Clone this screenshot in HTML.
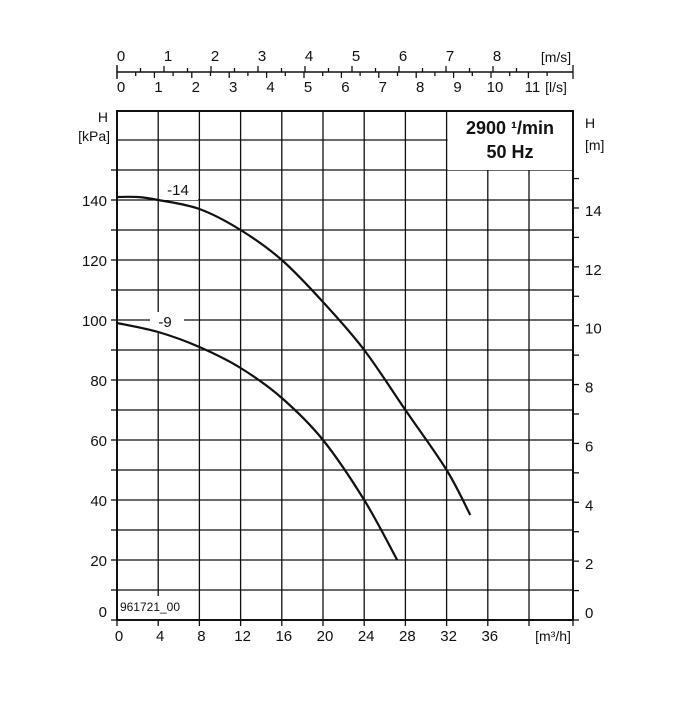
<!DOCTYPE html>
<html><head><meta charset="utf-8"><style>
body{margin:0;background:#fff;font-family:"Liberation Sans",Arial,sans-serif}
svg text{font-family:"Liberation Sans",Arial,sans-serif;fill:#111}
</style></head><body>
<svg id="c" width="700" height="700" viewBox="0 0 700 700" xmlns="http://www.w3.org/2000/svg"></svg>
<script>
const xTicks=[0,4,8,12,16,20,24,28,32,36];
const yTicksKpa=[0,20,40,60,80,100,120,140];
const yTicksM=[0,2,4,6,8,10,12,14];
const lsTicks=[0,1,2,3,4,5,6,7,8,9,10,11];
const msTicks=[0,1,2,3,4,5,6,7,8];
const q14=[0,2,4,8,12,16,20,24,28,32,34.3];
const h14=[141,141,140,137,130,120,106,90,70,50,35];
const q9=[0,4,8,12,16,20,24,27.2];
const h9=[99,96,91,84,74,60,40,20];

const svg=document.getElementById('c');
const NS='http://www.w3.org/2000/svg';
const X0=117,XPU=10.3,Y0=620,YPU=3,LEFT=117,RIGHT=573,TOP=111,BOT=620;
const xs=q=>X0+q*XPU, ys=h=>Y0-h*YPU, ym=m=>Y0-m*9.81*YPU;
function el(t,a,p){const e=document.createElementNS(NS,t);for(const k in a)e.setAttribute(k,a[k]);(p||svg).appendChild(e);return e;}
function line(x1,y1,x2,y2,w,p){return el('line',{x1,y1,x2,y2,stroke:'#111','stroke-width':w||1.3},p);}
function txt(x,y,s,size,anchor,p,weight){const t=el('text',{x,y,'font-size':size||14,'text-anchor':anchor||'middle'},p);if(weight)t.setAttribute('font-weight',weight);t.textContent=s;return t;}

const grid=el('g',{});


for(let q=4;q<=40;q+=4){line(xs(q),TOP,xs(q),BOT,1.3,grid);}
for(let h=10;h<=160;h+=10){line(LEFT,ys(h),RIGHT,ys(h),1.3,grid);}
const box=el('rect',{x:xs(32)+1,y:TOP+1,width:RIGHT-xs(32)-2,height:ys(150)-TOP-1,fill:'#fff'});


txt(510,134,'2900 ¹/min',18,'middle',null,'bold');
txt(510,158,'50 Hz',18,'middle',null,'bold');
const fr=el('rect',{x:LEFT,y:TOP,width:RIGHT-LEFT,height:BOT-TOP,fill:'none',stroke:'#111','stroke-width':2});


el('rect',{x:xs(4)-2,y:596,width:4,height:BOT-597,fill:'#fff'});
el('rect',{x:160,y:180,width:38,height:20,fill:'#fff'});
el('rect',{x:150,y:312,width:34,height:20,fill:'#fff'});

for(const h of yTicksKpa){line(LEFT-6,ys(h),LEFT,ys(h),1.3);txt(LEFT-10,ys(h)+(h===0?-3:6),String(h),15,'end');}
for(let h=10;h<=160;h+=20){line(LEFT-6,ys(h),LEFT,ys(h),1.3);}
txt(108,122,'H',14,'end');txt(110,141,'[kPa]',14,'end');
for(let m=0;m<=15;m++){line(RIGHT,ym(m),RIGHT+6,ym(m),1.3);}
for(const m of yTicksM){txt(RIGHT+12,ym(m)+(m===0?-2:8),String(m),15,'start');}
txt(585,128,'H',14,'start');txt(585,150,'[m]',14,'start');
for(const q of xTicks){line(xs(q),BOT,xs(q),BOT+6,1.3);txt(xs(q)+2,BOT+21,String(q),15);}
line(xs(40),BOT,xs(40),BOT+6,1.3);line(RIGHT,BOT,RIGHT,BOT+6,1.3);
txt(553,641,'[m³/h]',14);
txt(150,611,'961721_00',12);

const TY=72;
line(117,TY,573,TY,1.6);line(117,TY-7,117,TY+7,1.3);line(573,TY-7,573,TY+7,1.3);
for(const l of lsTicks){line(117+l*37.4,TY,117+l*37.4,TY+6,1.3);txt(121+l*37.4,TY+20,String(l),15);}
for(let l=0.5;l<12;l++){line(117+l*37.4,TY,117+l*37.4,TY+4,1.3);}
for(const m of msTicks){line(117+m*47,TY-6,117+m*47,TY,1.3);txt(121+m*47,TY-11,String(m),15);}
for(let m=0.5;m<9.5;m++){line(117+m*47,TY-4,117+m*47,TY,1.3);}
txt(556,62,'[m/s]',14);txt(556,92,'[l/s]',14);

function curve(qa,ha,name){
  const P=qa.map((q,i)=>[xs(q),ys(ha[i])]);
  let d='M'+P[0][0].toFixed(1)+' '+P[0][1].toFixed(1);
  for(let i=0;i<P.length-1;i++){
    const p0=P[i-1]||P[i],p1=P[i],p2=P[i+1],p3=P[i+2]||P[i+1];
    const c1=[p1[0]+(p2[0]-p0[0])/6,p1[1]+(p2[1]-p0[1])/6];
    const c2=[p2[0]-(p3[0]-p1[0])/6,p2[1]-(p3[1]-p1[1])/6];
    d+=' C'+c1.map(v=>v.toFixed(1)).join(' ')+' '+c2.map(v=>v.toFixed(1)).join(' ')+' '+p2.map(v=>v.toFixed(1)).join(' ');
  }
  const p=el('path',{d,fill:'none',stroke:'#111','stroke-width':2.2,'stroke-linejoin':'round'});
  
  
}
curve(q14,h14,'curve-14');
curve(q9,h9,'curve-9');
txt(178,195,'-14',15);
txt(165,327,'-9',15);
</script>
</body></html>
